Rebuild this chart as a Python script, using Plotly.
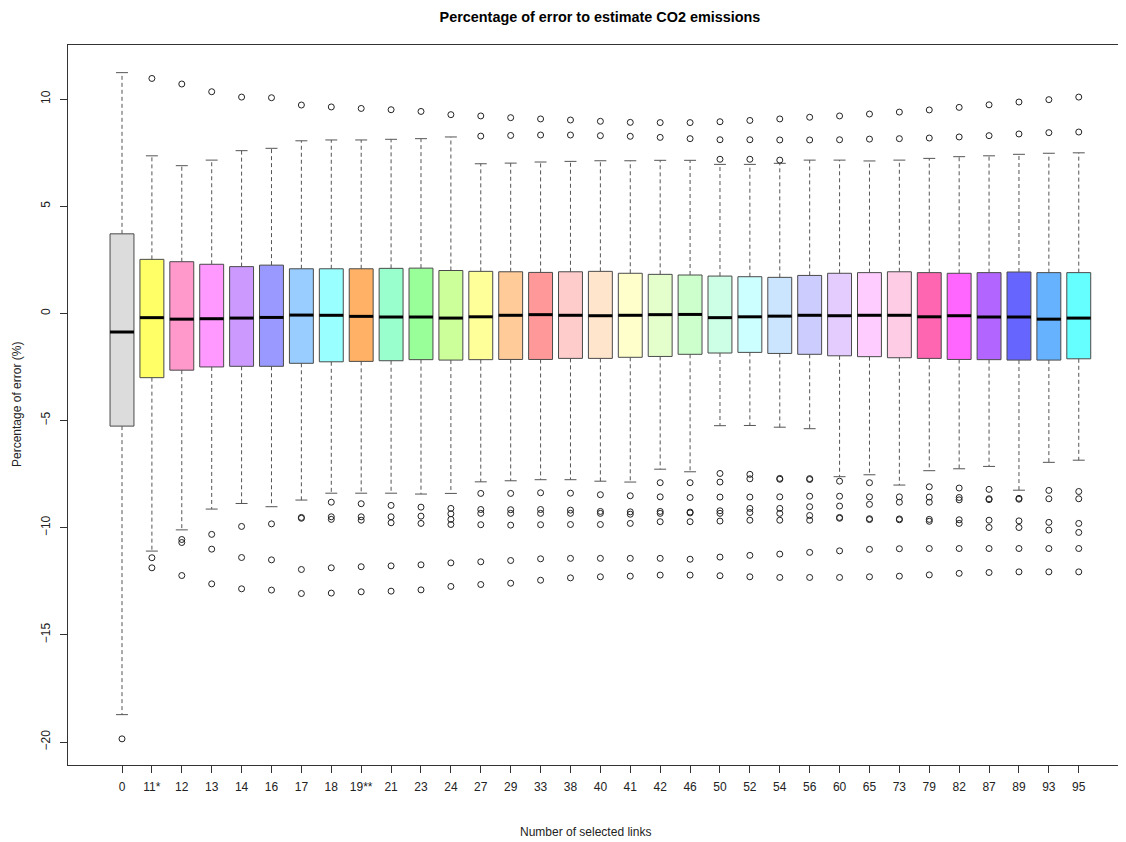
import plotly.graph_objects as go

categories = ["0", "11*", "12", "13", "14", "16", "17", "18", "19**", "21", "23", "24", "27", "29",
              "33", "38", "40", "41", "42", "46", "50", "52", "54", "56", "60", "65", "73", "79",
              "82", "87", "89", "93", "95"]

lower_whisker = [-18.72, -11.09, -10.10, -9.13, -8.87, -9.02, -8.71, -8.39, -8.39, -8.39, -8.43, -8.40,
                 -7.86, -7.81, -7.76, -7.76, -7.83, -7.87, -7.27, -7.39, -5.24, -5.23, -5.31, -5.38,
                 -7.62, -7.53, -8.01, -7.34, -7.25, -7.14, -8.25, -6.95, -6.85]
q1 = [-5.26, -3.00, -2.65, -2.50, -2.47, -2.47, -2.33, -2.26, -2.24, -2.21, -2.16, -2.18,
      -2.16, -2.15, -2.15, -2.10, -2.10, -2.05, -2.01, -1.91, -1.85, -1.82, -1.87, -1.91,
      -1.98, -2.02, -2.07, -2.10, -2.15, -2.16, -2.18, -2.18, -2.12]
median = [-0.87, -0.20, -0.27, -0.25, -0.22, -0.19, -0.08, -0.09, -0.14, -0.17, -0.17, -0.22,
          -0.16, -0.09, -0.06, -0.09, -0.11, -0.09, -0.06, -0.05, -0.20, -0.16, -0.13, -0.09,
          -0.11, -0.09, -0.09, -0.16, -0.11, -0.17, -0.17, -0.27, -0.22]
q3 = [3.71, 2.52, 2.41, 2.29, 2.18, 2.25, 2.08, 2.08, 2.08, 2.10, 2.11, 2.00,
      1.96, 1.94, 1.91, 1.94, 1.96, 1.87, 1.82, 1.79, 1.74, 1.71, 1.68, 1.77,
      1.87, 1.90, 1.94, 1.90, 1.87, 1.90, 1.93, 1.90, 1.90]
upper_whisker = [11.23, 7.35, 6.89, 7.15, 7.59, 7.70, 8.05, 8.09, 8.09, 8.12, 8.15, 8.23,
                 6.98, 7.01, 7.06, 7.09, 7.12, 7.12, 7.14, 7.14, 6.95, 6.95, 7.00, 7.15,
                 7.15, 7.11, 7.15, 7.23, 7.31, 7.35, 7.42, 7.47, 7.49]
outliers = [
    [-19.85],
    [10.96, -11.40, -11.87],
    [10.70, -10.55, -10.69, -12.23],
    [10.34, -10.31, -11.00, -12.62],
    [10.09, -9.94, -11.39, -12.85],
    [10.06, -9.82, -11.50, -12.91],
    [9.72, -9.52, -9.56, -11.95, -13.07],
    [9.63, -8.81, -9.49, -9.61, -11.87, -13.05],
    [9.56, -8.88, -9.49, -9.65, -11.82, -12.99],
    [9.50, -8.96, -9.49, -9.77, -11.78, -12.96],
    [9.42, -9.04, -9.46, -9.80, -11.73, -12.90],
    [9.27, -9.10, -9.35, -9.61, -9.85, -11.64, -12.74],
    [9.21, 8.27, -8.40, -9.15, -9.33, -9.86, -11.59, -12.65],
    [9.13, 8.30, -8.40, -9.16, -9.33, -9.88, -11.53, -12.59],
    [9.07, 8.32, -8.37, -9.15, -9.33, -9.86, -11.45, -12.45],
    [9.02, 8.32, -8.39, -9.18, -9.33, -9.85, -11.43, -12.34],
    [8.96, 8.29, -8.46, -9.24, -9.33, -9.85, -11.43, -12.29],
    [8.91, 8.26, -8.51, -9.26, -9.37, -9.80, -11.43, -12.26],
    [8.90, 8.21, -7.90, -8.56, -9.24, -9.33, -9.72, -11.43, -12.21],
    [8.90, 8.15, -7.90, -8.59, -9.27, -9.31, -9.72, -11.47, -12.21],
    [8.94, 8.10, 7.19, -7.47, -7.87, -8.57, -9.21, -9.33, -9.69, -11.37, -12.24],
    [9.00, 8.10, 7.19, -7.51, -7.72, -8.57, -9.10, -9.29, -9.65, -11.29, -12.29],
    [9.07, 8.09, 7.15, -7.70, -7.74, -8.56, -9.10, -9.33, -9.65, -11.23, -12.32],
    [9.15, 8.09, -7.71, -7.75, -8.53, -9.02, -9.43, -9.65, -11.15, -12.32],
    [9.21, 8.10, -7.83, -8.53, -8.99, -9.52, -9.56, -11.08, -12.32],
    [9.30, 8.13, -7.90, -8.56, -8.91, -9.58, -9.62, -11.01, -12.29],
    [9.39, 8.15, -8.56, -8.81, -9.59, -9.63, -10.98, -12.26],
    [9.49, 8.18, -8.09, -8.57, -8.81, -9.61, -9.70, -10.97, -12.20],
    [9.61, 8.23, -8.15, -8.59, -8.70, -9.63, -9.80, -10.97, -12.13],
    [9.73, 8.29, -8.21, -8.65, -8.69, -9.65, -9.99, -10.97, -12.09],
    [9.86, 8.37, -8.63, -8.67, -9.68, -9.99, -10.97, -12.06],
    [9.97, 8.43, -8.26, -8.65, -9.75, -10.11, -10.97, -12.06],
    [10.09, 8.46, -8.31, -8.65, -9.80, -10.22, -10.97, -12.06],
]
fill_colors = ["#DCDCDC", "#FFFF66", "#FF99CC", "#FF99FF", "#CC99FF", "#9999FF", "#99CCFF", "#99FFFF",
               "#FFB266", "#99FFCC", "#99FF99", "#CCFF99", "#FFFF99", "#FFCC99", "#FF9999", "#FFCCCC",
               "#FFE5CC", "#FFFFCC", "#E5FFCC", "#CCFFCC", "#CCFFE5", "#CCFFFF", "#CCE5FF", "#CCCCFF",
               "#E5CCFF", "#FFCCFF", "#FFCCE5", "#FF66B2", "#FF66FF", "#B266FF", "#6666FF", "#66B2FF",
               "#66FFFF"]

FONT = "Liberation Sans, Arial, sans-serif"
pos = list(range(1, len(categories) + 1))
BOXW = 0.8
CAPW = 0.2

fig = go.Figure()

# dashed whiskers
wx, wy = [], []
for p, lo, a, b, hi in zip(pos, lower_whisker, q1, q3, upper_whisker):
    wx += [p, p, None, p, p, None]
    wy += [b, hi, None, a, lo, None]
fig.add_trace(go.Scatter(x=wx, y=wy, mode="lines", line=dict(color="#555555", width=1, dash="4px,3px"),
                         hoverinfo="skip", showlegend=False))
# whisker caps
cx, cy = [], []
for p, lo, hi in zip(pos, lower_whisker, upper_whisker):
    cx += [p - CAPW, p + CAPW, None, p - CAPW, p + CAPW, None]
    cy += [hi, hi, None, lo, lo, None]
fig.add_trace(go.Scatter(x=cx, y=cy, mode="lines", line=dict(color="#555555", width=1),
                         hoverinfo="skip", showlegend=False))

# boxes
for p, cat, a, m, b, col in zip(pos, categories, q1, median, q3, fill_colors):
    fig.add_trace(go.Box(x=[p], q1=[a], median=[m], q3=[b], lowerfence=[a], upperfence=[b],
                         width=BOXW, fillcolor=col, line=dict(color="#4a4a4a", width=1),
                         whiskerwidth=0, boxpoints=False, name=cat, showlegend=False))

# medians
mx, my = [], []
for p, m in zip(pos, median):
    mx += [p - BOXW / 2, p + BOXW / 2, None]
    my += [m, m, None]
fig.add_trace(go.Scatter(x=mx, y=my, mode="lines", line=dict(color="black", width=3),
                         hoverinfo="skip", showlegend=False))

# outliers
ox, oy = [], []
for p, outs in zip(pos, outliers):
    for v in outs:
        ox.append(p)
        oy.append(v)
fig.add_trace(go.Scatter(x=ox, y=oy, mode="markers",
                         marker=dict(symbol="circle-open", size=6, color="#222222", line=dict(width=1)),
                         hoverinfo="skip", showlegend=False))

# the page body adds an 8px margin, so the figure is sized/positioned to compensate
fig.update_layout(
    width=1118, height=834,
    margin=dict(l=60, r=0, t=37, b=77, autoexpand=False),
    paper_bgcolor="white", plot_bgcolor="white",
    font=dict(family=FONT, size=12, color="#222222"),
    showlegend=False,
    title=dict(text="<b>Percentage of error to estimate CO2 emissions</b>",
               x=0.5295, xanchor="center", y=0.989, yanchor="middle", yref="container",
               font=dict(family=FONT, size=14.4, color="black")),
    xaxis=dict(range=[-0.806, 34.58], tickmode="array", tickvals=pos, ticktext=categories,
               automargin=False,
               showgrid=False, zeroline=False, showline=True, linecolor="#333333", linewidth=1,
               mirror=True, ticks="outside", ticklen=7, tickcolor="#333333",
               tickfont=dict(size=12, color="#222222"), ticklabelstandoff=4),
    yaxis=dict(range=[-21.07, 12.52], tickmode="array", tickvals=[-20, -15, -10, -5, 0, 5, 10],
               automargin=False,
               showgrid=False, zeroline=False, showline=True, linecolor="#333333", linewidth=1,
               mirror=False, ticks="outside", ticklen=7, tickcolor="#333333", tickangle=-90,
               tickfont=dict(size=12, color="#222222"), ticklabelstandoff=5),
    annotations=[
        dict(text="Number of selected links", xref="paper", yref="paper", x=0.4896, y=0,
             xanchor="center", yanchor="middle", yshift=-67, showarrow=False,
             font=dict(family=FONT, size=12, color="#222222")),
        dict(text="Percentage of error (%)", xref="paper", yref="paper", x=0, y=0.5,
             xanchor="center", yanchor="middle", xshift=-51, textangle=-90, showarrow=False,
             font=dict(family=FONT, size=12, color="#222222")),
    ],
)

fig.write_html("out.html")
